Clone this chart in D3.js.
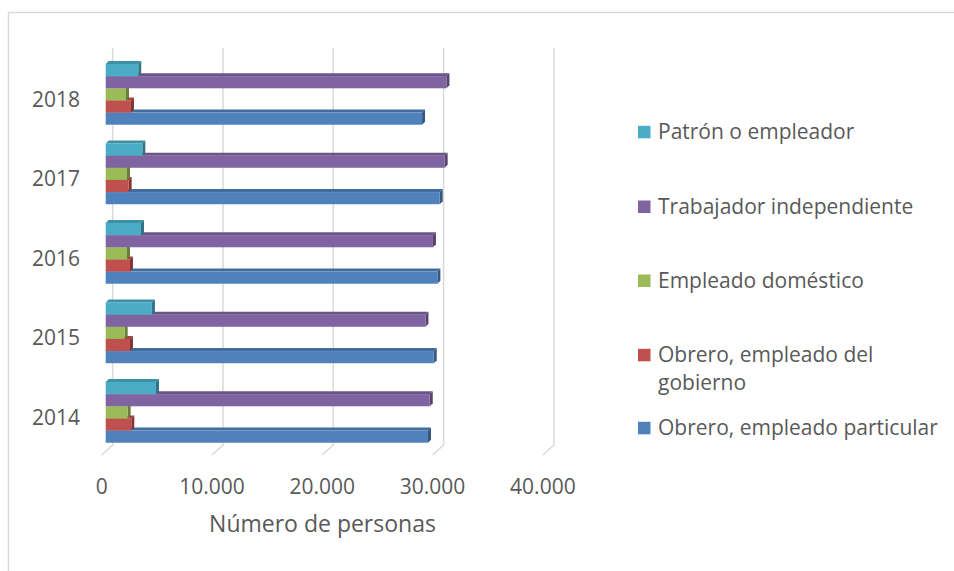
<!DOCTYPE html>
<html>
<head>
<meta charset="utf-8">
<script src="https://cdn.jsdelivr.net/npm/d3@7"></script>
<style>
  body { margin: 0; background: #fff; }
  text { font-family: "Open Sans", sans-serif; fill: #595959; }
</style>
</head>
<body>
<div id="vis"></div>
<script>
var width = 954, height = 571;

// data
var years = ["2014", "2015", "2016", "2017", "2018"];
var particular = [29220, 29740, 30070, 30280, 28680];
var gobierno = [2320, 2200, 2200, 2080, 2290];
var domestico = [1990, 1720, 1930, 1930, 1840];
var independiente = [29380, 28990, 29670, 30730, 30890];
var patron = [4560, 4190, 3200, 3320, 2950];
var xTicks = [0, 10000, 20000, 30000, 40000];

// bottom to top inside each group
var series = [
    { name: "Obrero, empleado particular", values: particular, color: "#4F81BD" },
    { name: "Obrero, empleado del gobierno", values: gobierno, color: "#C0504D" },
    { name: "Empleado doméstico", values: domestico, color: "#9BBB59" },
    { name: "Trabajador independiente", values: independiente, color: "#8064A2" },
    { name: "Patrón o empleador", values: patron, color: "#4BACC6" }
];

var svg = d3.select("#vis")
    .append("svg")
    .attr("width", width)
    .attr("height", height);

// chart border
svg.append("rect")
    .attr("x", 8.5).attr("y", 12.5)
    .attr("width", 960).attr("height", 580)
    .attr("fill", "none")
    .attr("stroke", "#d9d9d9")
    .attr("stroke-width", 1.5);

var x = d3.scaleLinear().domain([0, 40000]).range([105.7, 546.9]);

var y0 = d3.scaleBand()
    .domain(years.slice().reverse())
    .range([54.6, 452.1])
    .paddingInner(0.236)
    .paddingOuter(0.118);

var y1 = d3.scaleBand()
    .domain(series.map(d => d.name).reverse())
    .range([0, y0.bandwidth()]);

var back = 7, depth = 11, floorY = 445, d = 3;

// gridlines on back wall + floor slant
var grid = svg.append("g").attr("class", "grid")
    .attr("fill", "none")
    .attr("stroke", "#d9d9d9")
    .attr("stroke-width", 1.5);
xTicks.forEach(function (t) {
    var xb = x(t) + back;
    grid.append("path")
        .attr("d", "M" + xb + ",48 L" + xb + "," + floorY +
            " L" + (xb - depth) + "," + (floorY + 10));
});

// tick labels (front plane)
svg.selectAll(".tick-label")
    .data(xTicks)
    .enter().append("text")
    .attr("class", "tick-label")
    .attr("x", t => x(t) - 4)
    .attr("y", 494)
    .attr("text-anchor", "middle")
    .style("font-size", "21px")
    .text(t => d3.format(",")(t).replace(/,/g, "."));

svg.append("text")
    .attr("x", 322.5)
    .attr("y", 532)
    .attr("text-anchor", "middle")
    .style("font-size", "23px")
    .text("Número de personas");

// year labels
svg.selectAll(".year-label")
    .data(years)
    .enter().append("text")
    .attr("class", "year-label")
    .attr("x", 80)
    .attr("y", yr => y0(yr) + y0.bandwidth() / 2 + 12.3)
    .attr("text-anchor", "end")
    .style("font-size", "21px")
    .text(yr => yr);

// 3d bars, drawn bottom series first so upper bars cover hidden top faces
var bars = svg.append("g").attr("class", "bars");
years.slice().forEach(function (yr, i) {
    series.forEach(function (s) {
        var v = s.values[i];
        var bx = x(0), ex = x(v);
        var by = y0(yr) + y1(s.name), bh = y1.bandwidth();
        var c = d3.color(s.color);
        var g = bars.append("g");
        g.append("polygon")
            .attr("points", [[bx, by], [bx + d, by - d], [ex + d, by - d], [ex, by]].join(" "))
            .attr("fill", c.darker(0.5));
        g.append("polygon")
            .attr("points", [[ex, by], [ex + d, by - d], [ex + d, by + bh - d], [ex, by + bh]].join(" "))
            .attr("fill", c.darker(1.1));
        g.append("rect")
            .attr("x", bx).attr("y", by)
            .attr("width", ex - bx).attr("height", bh)
            .attr("fill", s.color);
    });
});

// legend
var legendY = [132, 206.7, 280.7, 355, 428];
var legendItems = series.slice().reverse();
var legend = svg.selectAll(".legend")
    .data(legendItems)
    .enter().append("g")
    .attr("class", "legend")
    .attr("transform", (s, i) => "translate(638," + legendY[i] + ")");

legend.append("rect")
    .attr("x", 0).attr("y", -6.2)
    .attr("width", 12.5).attr("height", 12.5)
    .attr("fill", s => s.color);

legend.append("text")
    .attr("x", 20)
    .attr("y", 7)
    .style("font-size", "21px")
    .each(function (s) {
        var t = d3.select(this);
        if (s.name === "Obrero, empleado del gobierno") {
            t.append("tspan").attr("x", 20).text("Obrero, empleado del");
            t.append("tspan").attr("x", 20).attr("dy", 28).text("gobierno");
        } else {
            t.text(s.name);
        }
    });
</script>
</body>
</html>
